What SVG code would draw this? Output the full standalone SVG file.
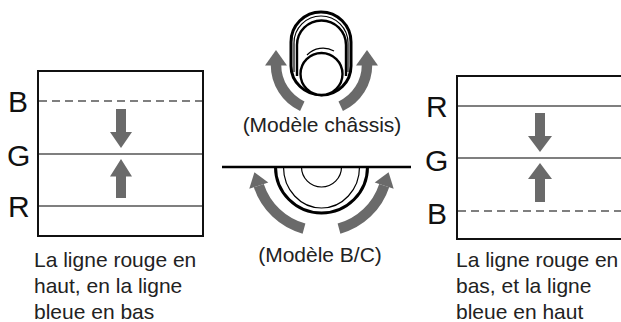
<svg xmlns="http://www.w3.org/2000/svg" width="621" height="322" viewBox="0 0 621 322">
<style>
.box{fill:none;stroke:#111;stroke-width:2}
.ln{stroke:#555;stroke-width:1.3;fill:none}
.dash{stroke:#555;stroke-width:1.3;stroke-dasharray:8 5;fill:none}
.lbl{font-family:"Liberation Sans",Arial,sans-serif;font-size:30px;fill:#111}
.txt{font-family:"Liberation Sans",Arial,sans-serif;font-size:21px;fill:#222}
.garc{fill:none;stroke:#6a6a6a;stroke-width:10.5}
.ghead{fill:#6a6a6a}
.k3{fill:none;stroke:#000;stroke-width:3}
.k2{fill:none;stroke:#000;stroke-width:2.4}
.k1{fill:none;stroke:#000;stroke-width:1.2}
</style>
<g id="left-panel">
<rect class="box" x="38" y="71" width="165" height="165"/>
<line class="dash" x1="39" y1="101" x2="202" y2="101"/>
<line class="ln" x1="39" y1="154" x2="202" y2="154"/>
<line class="ln" x1="39" y1="206" x2="202" y2="206"/>
<text class="lbl" x="8" y="112">B</text>
<text class="lbl" x="7" y="165.5">G</text>
<text class="lbl" x="8" y="216.5">R</text>
<polygon class="ghead" points="116,109 126,109 126,132 132,132 121,148 110,132 116,132"/>
<polygon class="ghead" points="116,198 126,198 126,176.5 132,176.5 121,159 110,176.5 116,176.5"/>
<text class="txt" x="34" y="267">La ligne rouge en</text>
<text class="txt" x="34" y="293">haut, en la ligne</text>
<text class="txt" x="34" y="319">bleue en bas</text>
</g>
<g id="right-panel">
<rect class="box" x="457" y="76" width="180" height="163"/>
<line class="ln" x1="458" y1="106" x2="621" y2="106"/>
<line class="ln" x1="458" y1="158" x2="621" y2="158"/>
<line class="dash" x1="458" y1="211" x2="621" y2="211"/>
<text class="lbl" x="426" y="116.5">R</text>
<text class="lbl" x="425" y="171">G</text>
<text class="lbl" x="427" y="224">B</text>
<polygon class="ghead" points="535,113 545,113 545,136 552,136 540,152 528,136 535,136"/>
<polygon class="ghead" points="535,202 545,202 545,179 552,179 540,163 528,179 535,179"/>
<text class="txt" x="456" y="267">La ligne rouge en</text>
<text class="txt" x="456" y="293">bas, et la ligne</text>
<text class="txt" x="456" y="319">bleue en haut</text>
</g>
<g id="chassis-model">
<path class="k3" d="M291,66 V42 A30,30 0 0 1 351,42 V66 C351,82 338,95 321.5,95 C305,95 291,82 291,66 Z"/>
<path class="k1" d="M294,72 V43 A27,27 0 0 1 348,43 V72"/>
<path class="k2" d="M297,76 V45 A24.5,24.5 0 0 1 346,45 V76"/>
<circle cx="321.5" cy="74" r="21" fill="#fff" stroke="#000" stroke-width="2.4"/>
<path class="k1" d="M307,55 A22,22 0 0 1 334,51"/>
<path class="garc" d="M302.3,106.2 A45.5,45.5 0 0 1 276,65"/>
<polygon class="ghead" points="265,65.5 287,65.5 276,50"/>
<path class="garc" d="M340.7,106.2 A45.5,45.5 0 0 0 367,65"/>
<polygon class="ghead" points="356,65.5 378,65.5 367,50"/>
<text class="txt" x="322" y="132" text-anchor="middle">(Modèle châssis)</text>
</g>
<g id="bc-model">
<line x1="222" y1="167" x2="411" y2="167" stroke="#000" stroke-width="2.5"/>
<path class="k3" d="M275.5,167 A46,46 0 0 0 367.5,167"/>
<path class="k1" d="M283.5,167 A38,41 0 0 0 359.5,167"/>
<path class="k1" d="M301.5,167 A20,20 0 0 0 341.5,167"/>
<path class="garc" d="M304,228.6 A66,66 0 0 1 258.8,185.6"/>
<polygon class="ghead" points="249.3,188.7 268.3,182.5 254.4,172.3"/>
<path class="garc" d="M339,228.6 A66,66 0 0 0 384.2,185.6"/>
<polygon class="ghead" points="393.7,188.7 374.7,182.5 388.6,172.3"/>
<text class="txt" x="320" y="262" text-anchor="middle">(Modèle B/C)</text>
</g>
</svg>
